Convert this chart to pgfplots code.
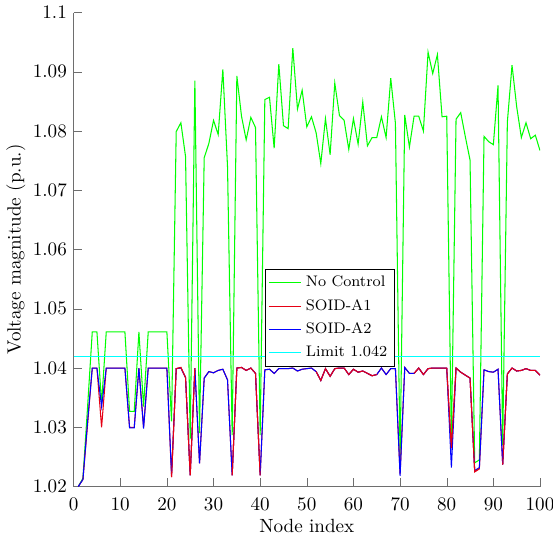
\documentclass[border=0pt]{standalone}
\usepackage{pgfplots}
\usepackage{pgfplotstable}
\pgfplotsset{compat=1.18}
\definecolor{nocolgreen}{RGB}{0,255,0}
\definecolor{aonered}{RGB}{230,0,20}
\definecolor{atwoblue}{RGB}{0,0,255}
\definecolor{limcyan}{RGB}{0,255,255}
\definecolor{axgray}{RGB}{110,110,110}

% node, no control, SOID-A1, SOID-A2
\pgfplotstableread{
n g r b
1 1.0200 1.0200 1.0200
2 1.0214 1.0212 1.0212
3 1.0335 1.0305 1.0310
4 1.0461 1.0400 1.0400
5 1.0461 1.0400 1.0400
6 1.0340 1.0300 1.0335
7 1.0461 1.0400 1.0400
8 1.0461 1.0400 1.0400
9 1.0461 1.0400 1.0400
10 1.0461 1.0400 1.0400
11 1.0461 1.0400 1.0400
12 1.0327 1.0300 1.0299
13 1.0327 1.0300 1.0299
14 1.0461 1.0400 1.0400
15 1.0335 1.0300 1.0298
16 1.0461 1.0400 1.0400
17 1.0461 1.0400 1.0400
18 1.0461 1.0400 1.0400
19 1.0461 1.0400 1.0400
20 1.0461 1.0400 1.0400
21 1.0310 1.0216 1.0220
22 1.0799 1.0399 1.0399
23 1.0814 1.0401 1.0400
24 1.0757 1.0384 1.0384
25 1.0280 1.0219 1.0219
26 1.0885 1.0400 1.0400
27 1.0290 1.0239 1.0239
28 1.0755 1.0383 1.0383
29 1.0779 1.0394 1.0394
30 1.0818 1.0392 1.0392
31 1.0794 1.0396 1.0396
32 1.0904 1.0398 1.0398
33 1.0740 1.0380 1.0380
34 1.0287 1.0219 1.0219
35 1.0893 1.0400 1.0400
36 1.0825 1.0401 1.0401
37 1.0785 1.0396 1.0396
38 1.0823 1.0400 1.0400
39 1.0806 1.0391 1.0391
40 1.0287 1.0219 1.0219
41 1.0853 1.0397 1.0397
42 1.0857 1.0398 1.0398
43 1.0771 1.0391 1.0391
44 1.0913 1.0399 1.0399
45 1.0809 1.0399 1.0399
46 1.0804 1.0399 1.0399
47 1.0940 1.0400 1.0400
48 1.0837 1.0395 1.0395
49 1.0869 1.0398 1.0398
50 1.0807 1.0399 1.0399
51 1.0824 1.0400 1.0400
52 1.0797 1.0394 1.0394
53 1.0745 1.0379 1.0379
54 1.0821 1.0399 1.0399
55 1.0760 1.0386 1.0386
56 1.0881 1.0399 1.0399
57 1.0826 1.0400 1.0400
58 1.0818 1.0400 1.0400
59 1.0769 1.0389 1.0389
60 1.0821 1.0398 1.0398
61 1.0778 1.0393 1.0393
62 1.0849 1.0395 1.0395
63 1.0775 1.0391 1.0391
64 1.0789 1.0387 1.0387
65 1.0789 1.0389 1.0389
66 1.0824 1.0400 1.0400
67 1.0789 1.0389 1.0389
68 1.0889 1.0399 1.0399
69 1.0813 1.0399 1.0399
70 1.0248 1.0221 1.0218
71 1.0827 1.0401 1.0401
72 1.0773 1.0391 1.0391
73 1.0825 1.0391 1.0391
74 1.0825 1.0400 1.0400
75 1.0800 1.0389 1.0389
76 1.0933 1.0399 1.0399
77 1.0897 1.0400 1.0400
78 1.0929 1.0400 1.0400
79 1.0824 1.0400 1.0400
80 1.0825 1.0400 1.0400
81 1.0275 1.0265 1.0232
82 1.0820 1.0400 1.0400
83 1.0831 1.0393 1.0393
84 1.0790 1.0388 1.0388
85 1.0751 1.0383 1.0383
86 1.0240 1.0225 1.0227
87 1.0245 1.0230 1.0232
88 1.0791 1.0397 1.0397
89 1.0782 1.0394 1.0394
90 1.0777 1.0393 1.0393
91 1.0877 1.0398 1.0398
92 1.0270 1.0237 1.0237
93 1.0815 1.0390 1.0390
94 1.0911 1.0400 1.0400
95 1.0841 1.0395 1.0395
96 1.0789 1.0396 1.0396
97 1.0814 1.0399 1.0399
98 1.0787 1.0396 1.0396
99 1.0793 1.0396 1.0396
100 1.0767 1.0388 1.0388
}\volt

\begin{document}
\begin{tikzpicture}
\begin{axis}[
  scale only axis,
  width=244pt, height=248pt,
  xmin=0, xmax=100, ymin=1.02, ymax=1.1,
  axis lines*=left,
  tick align=inside,
  axis line style={axgray},
  tick style={axgray},
  xtick={0,10,20,30,40,50,60,70,80,90,100},
  ytick={1.02,1.03,1.04,1.05,1.06,1.07,1.08,1.09,1.1},
  yticklabel style={/pgf/number format/fixed, /pgf/number format/precision=2},
  xticklabel style={overlay, yshift=-2.5pt},
  xlabel={Node index},
  ylabel={Voltage magnitude (p.u.)},
  xlabel style={yshift=2pt},
  ylabel style={yshift=-3pt},
  legend style={at={(0.41,0.459)}, anchor=north west, font=\footnotesize,
    draw=black, inner sep=1.5pt, row sep=1pt},
  legend cell align=left,
]
\addplot[color=nocolgreen, line width=0.55pt] table[x=n, y=g] {\volt};
\addplot[color=aonered, line width=0.55pt] table[x=n, y=r] {\volt};
\addplot[color=atwoblue, line width=0.55pt] table[x=n, y=b] {\volt};
\addplot[color=limcyan, line width=0.7pt] coordinates {(0,1.042) (100,1.042)};
% stretches where SOID-A1 lies on top
\addplot[color=aonered, line width=0.55pt, forget plot, restrict x to domain=21:26] table[x=n, y=r] {\volt};
\addplot[color=aonered, line width=0.55pt, forget plot, restrict x to domain=34:40] table[x=n, y=r] {\volt};
\addplot[color=aonered, line width=0.55pt, forget plot, restrict x to domain=52:65] table[x=n, y=r] {\volt};
\addplot[color=aonered, line width=0.55pt, forget plot, restrict x to domain=73:87] table[x=n, y=r] {\volt};
\addplot[color=aonered, line width=0.55pt, forget plot, restrict x to domain=92:100] table[x=n, y=r] {\volt};
\legend{No Control, SOID-A1, SOID-A2, Limit 1.042}
\end{axis}
\path ([xshift=6.8pt]current axis.south east);
\end{tikzpicture}
\end{document}
